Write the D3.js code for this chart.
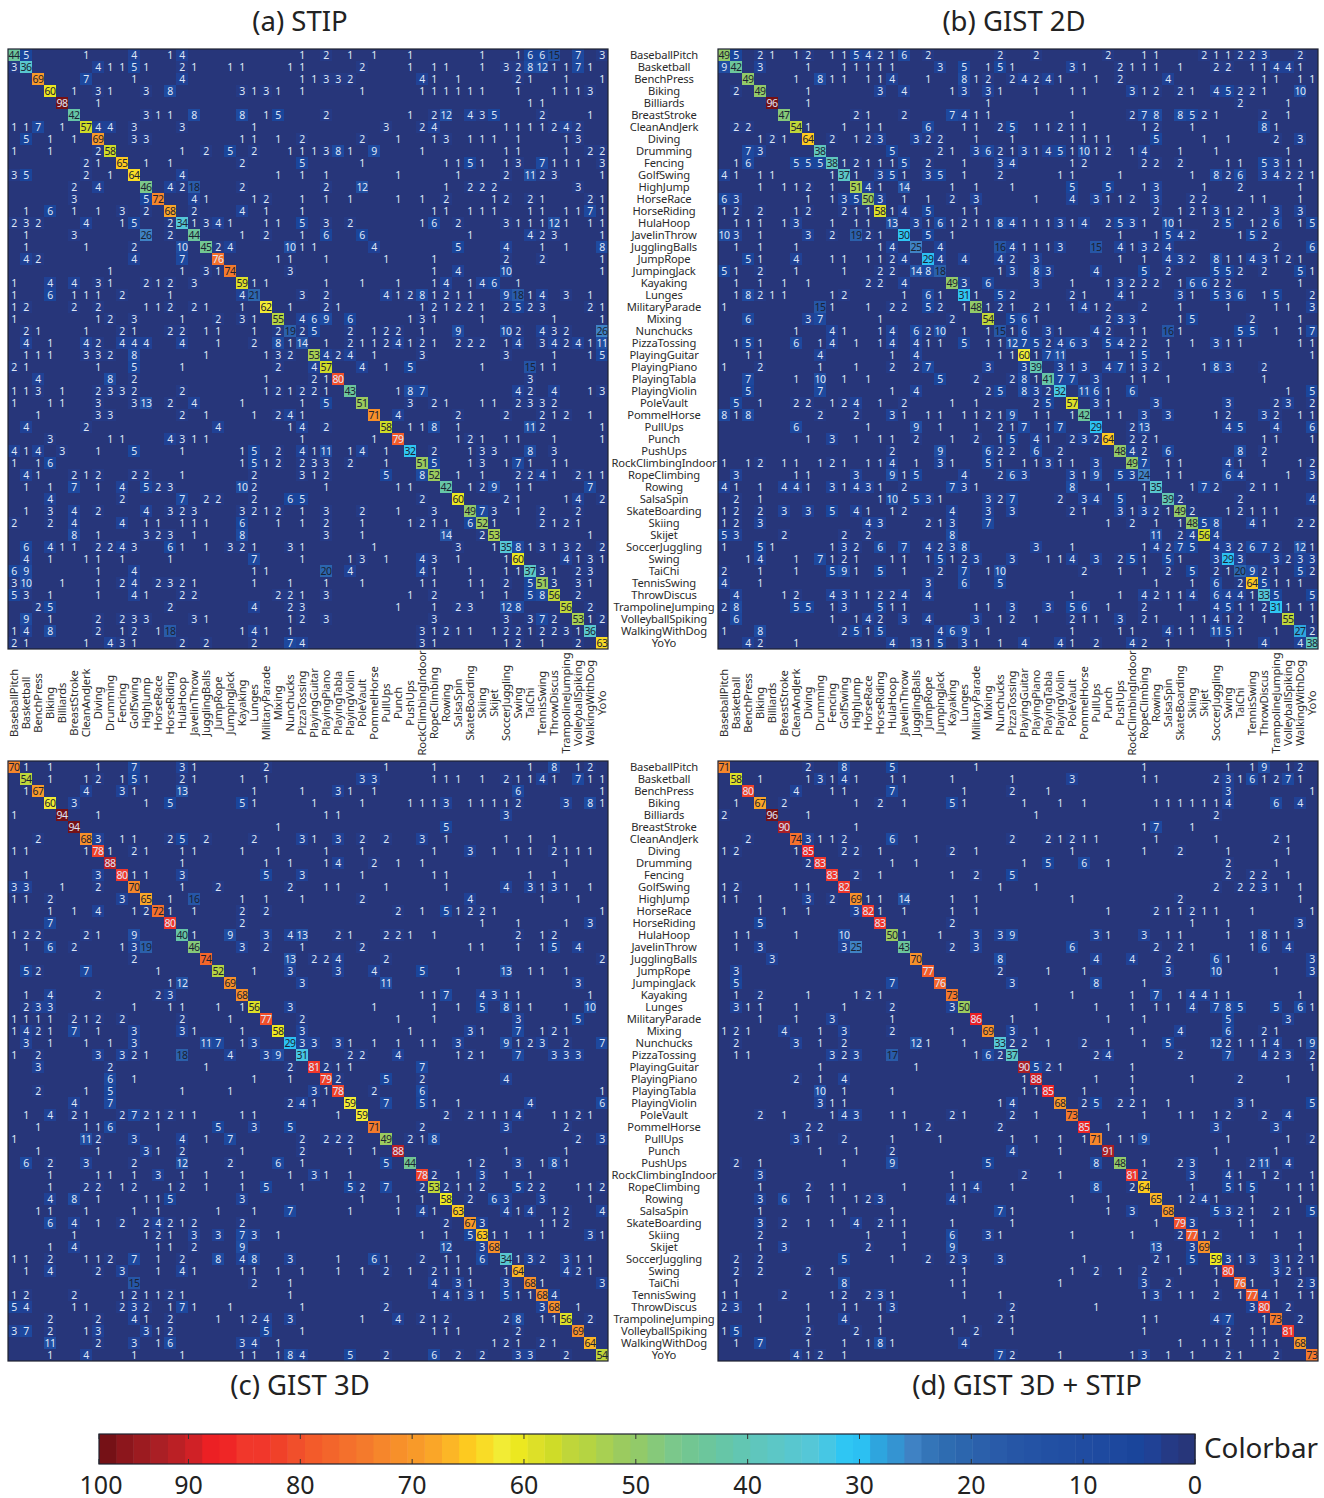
<!DOCTYPE html>
<html>
<head>
<meta charset="utf-8">
<script src="https://d3js.org/d3.v7.min.js"></script>
<style>
  html, body { margin: 0; padding: 0; background: #fff; }
  svg { display: block; }
  text { font-family: "Noto Sans", sans-serif; }
</style>
</head>
<body>
<div id="chart"></div>
<script>
var categories = ["BaseballPitch","Basketball","BenchPress","Biking","Billiards","BreastStroke","CleanAndJerk","Diving","Drumming","Fencing","GolfSwing","HighJump","HorseRace","HorseRiding","HulaHoop","JavelinThrow","JugglingBalls","JumpRope","JumpingJack","Kayaking","Lunges","MilitaryParade","Mixing","Nunchucks","PizzaTossing","PlayingGuitar","PlayingPiano","PlayingTabla","PlayingViolin","PoleVault","PommelHorse","PullUps","Punch","PushUps","RockClimbingIndoor","RopeClimbing","Rowing","SalsaSpin","SkateBoarding","Skiing","Skijet","SoccerJuggling","Swing","TaiChi","TennisSwing","ThrowDiscus","TrampolineJumping","VolleyballSpiking","WalkingWithDog","YoYo"];

// one string per row, "column:percent", empty cells left out
var stip = [
"0:44 1:5 6:1 10:4 13:1 14:4 24:1 26:2 28:1 30:1 33:1 39:1 42:1 43:6 44:6 45:15 47:7 49:3",
"0:3 1:36 7:4 8:1 9:1 10:5 11:1 14:2 15:1 18:1 19:1 23:1 24:1 29:2 33:1 35:1 36:1 39:1 41:3 42:2 43:8 44:12 45:1 46:1 47:7 48:1",
"2:69 6:7 10:1 14:4 24:1 25:1 26:3 27:3 28:2 34:4 35:1 37:1 42:2 43:1 46:1 49:1",
"3:60 5:1 7:3 8:1 11:3 13:8 19:3 20:1 21:3 22:1 24:1 29:1 34:1 35:1 36:1 37:1 38:1 39:1 42:1 45:1 46:1 47:1 48:3",
"4:98 7:1 43:1 44:1",
"5:42 11:3 12:1 13:1 15:8 19:8 21:1 22:5 26:2 33:1 35:2 36:12 38:4 39:3 40:5 44:2 48:1",
"0:1 1:1 2:7 4:1 6:57 7:4 8:4 10:3 14:3 20:1 31:3 34:2 35:4 41:1 42:1 43:1 44:1 45:2 46:4 47:2",
"1:5 3:1 5:1 7:69 10:3 11:3 19:1 20:1 22:1 24:2 29:2 32:1 35:1 36:3 38:1 39:1 40:1 42:1 46:1 47:3",
"0:1 3:1 7:2 8:58 14:1 16:2 18:5 20:2 23:1 24:1 25:1 26:3 27:8 28:1 30:9 34:1 41:1 42:1 46:1 48:2 49:2",
"6:2 7:1 9:65 11:1 13:1 19:2 24:5 29:1 36:1 37:1 38:5 39:1 41:1 42:3 44:7 45:1 46:1 47:1 49:3",
"0:3 1:5 6:2 8:1 10:64 14:4 22:1 24:1 26:1 32:1 37:1 41:2 43:11 44:2 45:3 49:1",
"5:2 7:4 11:46 13:4 14:2 15:18 19:2 26:2 29:12 36:1 38:2 39:2 40:2 47:3",
"5:3 11:5 12:72 15:4 16:1 20:1 21:2 24:1 26:1 28:1 32:1 34:1 36:2 40:1 41:2 43:2 44:1 48:2 49:1",
"1:1 3:6 5:1 7:1 9:3 11:2 13:68 15:2 19:4 21:1 24:1 35:1 36:1 38:1 39:1 40:1 43:1 44:1 46:1 47:1 48:7 49:1",
"0:2 1:3 2:2 6:4 9:1 10:5 13:2 14:34 15:1 16:3 17:4 18:1 21:1 22:1 24:5 26:3 28:2 34:1 35:6 37:2 41:3 42:1 43:1 44:1 45:12 46:1 48:1 49:1",
"1:1 5:3 11:26 13:2 15:44 19:1 21:2 24:1 26:6 29:6 38:1 43:4 44:2 45:3 49:1",
"1:1 6:1 10:2 14:10 16:45 17:2 18:4 23:10 24:1 25:1 30:4 37:5 41:4 44:1 46:1 49:8",
"1:4 2:2 10:4 14:7 17:76 22:1 23:1 26:1 31:1 35:1 41:2 44:2 49:1",
"8:1 14:1 16:3 17:1 18:74 23:3 35:1 37:4 41:10 49:1",
"0:1 3:4 5:4 7:3 8:1 11:2 12:1 13:2 15:3 19:59 20:1 21:1 26:1 29:1 32:1 35:1 36:4 38:1 39:4 40:6 42:1",
"0:1 3:6 5:1 6:1 7:1 9:2 13:1 19:4 20:21 24:3 26:2 31:4 32:1 33:2 34:8 35:1 36:2 37:1 38:1 41:9 42:18 43:1 44:4 46:3 48:1",
"0:1 1:2 5:2 7:2 11:1 12:1 13:2 15:2 16:1 19:1 21:62 23:1 26:2 27:1 34:1 35:2 36:1 37:2 38:2 39:1 41:2 42:5 43:2 44:3 48:2 49:1",
"0:1 7:1 8:2 10:3 14:1 17:2 19:3 20:1 22:55 24:4 25:6 26:9 28:6 33:1 34:3 35:1 39:1 45:1 49:1",
"1:2 2:1 6:1 9:2 10:1 13:2 14:2 16:1 17:1 20:1 22:2 23:19 24:2 25:5 28:2 30:1 31:2 32:2 34:1 37:9 41:10 42:2 44:4 45:3 46:2 49:26",
"1:4 3:1 6:4 7:2 9:4 10:4 11:4 14:4 17:1 20:2 22:8 23:1 24:14 26:1 28:2 29:1 30:1 31:2 32:4 33:1 34:2 35:1 37:2 38:2 39:2 41:1 42:4 44:3 45:4 46:2 47:4 48:1 49:11",
"1:1 2:1 3:1 6:3 7:3 8:2 10:8 16:1 21:1 22:3 23:2 25:53 26:4 27:2 28:4 30:1 34:3 41:3 45:1 48:1 49:5",
"0:2 1:1 7:1 10:5 14:1 22:2 25:4 26:57 29:4 31:1 33:5 39:1 43:15 44:1 45:1",
"2:4 8:8 10:2 21:1 25:2 26:1 27:80 43:3",
"0:1 1:1 2:3 4:1 7:2 8:3 9:3 10:2 14:2 21:1 22:2 23:1 24:2 25:2 26:1 28:43 32:1 33:8 34:7 42:4 43:2 45:4 48:1 49:3",
"0:1 3:1 4:1 7:3 10:3 11:13 13:2 15:4 19:1 24:1 26:5 29:51 33:3 35:2 36:1 39:1 40:1 42:2 43:3 44:3 45:2",
"2:1 7:3 8:3 14:2 16:1 20:1 22:2 23:4 24:1 30:71 32:4 37:2 41:2 44:2 45:1 46:2 48:1",
"1:4 6:2 17:4 23:1 24:4 26:2 31:58 33:1 34:1 35:8 37:1 43:11 44:2 49:1",
"3:3 8:1 9:1 13:4 14:3 15:1 16:1 24:1 30:1 32:79 37:1 38:2 39:1 41:1 42:1 45:1 49:1",
"0:4 1:1 2:4 4:3 7:1 10:5 14:1 19:1 20:5 22:2 24:4 25:1 26:11 28:1 29:4 31:1 33:32 35:2 38:1 39:3 40:3 43:8 45:3",
"0:1 2:1 3:6 19:1 20:5 21:1 22:2 24:2 25:3 26:3 28:2 31:1 34:51 35:5 38:1 39:3 41:1 42:7 43:1 45:1 46:1",
"1:4 2:1 5:2 6:1 7:2 10:2 11:2 14:1 20:2 24:3 25:1 26:2 31:5 34:8 35:52 37:1 39:1 42:2 43:2 44:4 45:1 47:2 48:1 49:1",
"1:1 3:1 5:7 7:1 9:4 11:5 12:2 13:3 19:10 20:2 26:1 32:1 33:1 36:42 38:1 39:2 40:9 42:1 43:1 48:7",
"3:4 9:2 14:7 16:2 17:2 20:2 23:6 24:5 34:2 37:60 41:2 42:1 46:1 47:4 49:2",
"1:1 3:3 5:4 7:2 11:4 13:3 14:2 15:3 19:3 20:2 21:1 22:2 24:1 26:3 29:2 32:1 35:3 38:49 39:7 40:3 42:1 44:2 47:2",
"0:2 3:2 5:4 9:4 11:1 12:1 14:1 15:1 16:1 19:6 22:1 24:1 26:2 29:1 33:1 34:2 35:1 36:1 38:6 39:52 40:1 44:2 45:1 46:2 47:1",
"5:8 7:1 11:3 12:2 13:3 15:1 19:8 26:3 29:1 36:14 39:2 40:53 48:1",
"1:6 3:4 4:1 5:1 7:2 8:2 9:4 10:3 13:6 14:1 16:1 18:3 19:2 20:1 23:3 24:1 30:1 37:3 40:1 41:35 42:8 43:1 44:3 45:1 46:3 47:2 49:2",
"1:4 3:1 6:1 7:1 9:1 13:1 20:7 24:1 28:1 29:3 31:1 34:4 35:3 37:1 41:1 42:60 46:4 47:1 48:3 49:1",
"0:6 1:9 7:1 10:4 20:1 21:1 26:20 28:4 34:4 35:1 38:1 41:1 42:1 43:37 44:3 45:1 47:2 48:3",
"0:3 1:10 4:1 7:1 9:2 10:4 12:2 13:3 14:2 15:1 20:1 23:1 26:1 29:1 34:1 35:1 38:1 39:1 41:2 43:5 44:51 45:3 47:3 48:1",
"0:5 1:3 3:1 7:1 10:4 11:1 14:2 15:2 22:2 23:2 24:1 26:3 33:1 35:2 39:1 41:1 43:5 44:8 45:56 47:2",
"2:2 3:5 13:2 20:4 23:2 24:3 32:1 35:1 37:2 38:3 41:12 42:8 46:56 48:2",
"1:9 3:1 7:2 9:2 10:3 11:3 15:3 16:1 23:1 24:2 26:3 35:3 41:3 43:3 44:7 45:2 47:53 48:1 49:2",
"0:1 1:4 3:8 7:2 9:1 10:2 12:1 13:18 19:1 20:4 21:1 23:1 34:3 35:1 36:2 37:1 38:1 40:1 41:2 42:2 43:1 44:2 45:2 46:3 47:1 48:36",
"0:2 1:1 6:1 8:4 9:3 10:1 14:2 16:2 20:2 23:7 24:4 34:3 35:1 41:1 42:2 44:1 47:2 49:63"
];

var gist2d = [
"0:49 1:5 3:2 4:1 6:1 7:2 9:1 10:1 11:5 12:4 13:2 14:1 15:6 17:2 23:2 26:2 32:2 35:1 36:1 40:2 41:1 42:1 43:2 44:2 45:3 48:2",
"0:9 1:42 3:3 7:1 10:1 11:1 12:1 13:1 14:1 18:3 20:5 22:1 23:5 24:1 29:3 30:1 33:2 34:1 35:1 36:1 38:1 41:2 42:2 44:1 45:1 46:4 47:4 48:1",
"2:49 6:1 8:8 9:1 10:1 12:1 13:1 14:4 17:1 20:8 21:1 22:2 24:2 25:4 26:2 27:4 28:1 31:1 33:2 37:4 45:1 46:1 48:1 49:1",
"1:2 3:49 7:1 13:3 15:4 19:1 20:3 22:3 23:1 26:1 29:1 30:1 34:3 35:1 36:2 38:2 39:1 41:4 42:5 43:2 44:2 45:1 48:10",
"4:96 7:1 22:1 43:2 47:1",
"5:47 11:2 12:1 15:2 19:7 20:4 21:1 22:1 29:1 34:2 35:7 36:8 38:8 39:5 40:2 41:1 45:2 47:1",
"1:2 2:2 6:54 7:1 10:1 12:1 13:1 17:6 20:1 21:1 23:2 24:5 26:1 27:1 28:2 29:1 30:1 35:1 36:2 39:1 45:8 46:1",
"3:1 4:2 5:1 7:64 9:2 11:1 12:2 13:3 16:3 17:2 18:2 21:1 24:1 29:1 30:1 31:1 32:1 36:5 40:1 42:1 46:2 48:3",
"2:7 3:3 8:38 14:5 18:2 19:1 21:3 22:6 23:2 24:1 25:3 26:1 27:4 28:5 29:1 30:10 31:1 32:2 34:1 35:4 38:1 41:1 47:1",
"1:1 2:6 6:5 7:5 8:5 9:38 10:1 11:2 12:1 13:1 14:1 15:5 17:2 20:1 23:3 24:4 29:1 30:2 35:2 36:2 38:2 42:1 43:1 45:5 46:3 47:1 48:1",
"0:4 1:1 3:1 4:1 9:1 10:37 11:1 13:3 14:5 15:1 17:3 18:5 20:1 23:2 28:1 29:1 33:1 39:1 41:8 42:2 43:6 45:3 46:4 47:2 48:2 49:1",
"3:1 5:1 6:1 7:2 9:1 11:51 12:4 13:1 15:14 19:1 21:1 24:1 29:5 32:5 35:1 36:3 40:1 43:2 48:1",
"0:6 1:3 7:1 9:1 10:3 11:5 12:50 13:3 15:1 17:1 19:2 21:3 26:1 29:4 31:3 32:1 33:1 34:2 36:3 39:2 40:2 44:1 45:1 48:1",
"0:1 1:2 3:2 6:1 7:2 10:2 11:1 12:1 13:58 14:1 15:4 17:5 20:1 21:1 36:2 38:1 39:2 40:1 41:3 42:1 43:2 46:3 48:3",
"1:1 2:1 3:1 5:1 6:3 9:1 11:1 12:1 14:13 16:3 17:1 18:6 19:1 20:2 21:1 22:1 23:8 24:4 25:1 26:1 27:1 28:3 29:1 30:4 32:2 33:5 34:3 35:1 37:10 38:1 41:2 42:5 44:1 45:2 46:6 48:1 49:5",
"0:10 1:3 3:1 7:3 9:2 11:19 12:2 13:1 15:30 17:5 19:1 33:1 36:1 37:5 38:4 39:2 43:1 44:5 45:2",
"1:1 3:1 6:1 13:1 14:4 16:25 18:4 23:16 24:4 25:1 26:1 27:1 28:3 31:15 33:4 34:1 35:3 36:2 37:4 46:2 49:6",
"2:5 3:1 6:4 9:1 10:1 12:1 13:1 14:2 15:4 17:29 18:4 20:4 23:4 24:2 26:3 33:1 35:1 37:4 38:3 39:2 41:8 42:1 43:1 44:4 45:3 46:1 47:2 48:1",
"0:5 1:1 3:2 6:1 10:1 13:2 14:2 16:14 17:8 18:18 23:1 24:3 26:8 27:3 31:4 35:5 37:2 41:5 42:5 43:2 45:2 48:5 49:1",
"1:1 3:1 5:1 7:1 12:2 13:2 15:4 19:49 20:3 22:6 26:3 29:1 32:1 33:3 34:2 35:2 36:2 38:1 39:6 40:6 41:2 42:2 48:1",
"1:1 2:8 3:2 4:1 5:1 9:1 10:2 15:1 17:6 18:1 20:31 21:1 23:5 24:2 29:2 30:1 33:4 34:1 38:3 39:1 41:5 42:3 43:6 45:1 46:5 49:2",
"0:1 8:15 9:1 12:1 14:2 15:2 17:5 18:2 20:1 21:48 22:1 23:2 24:1 26:2 27:1 29:1 30:4 31:1 32:2 35:2 38:1 42:1 46:1 47:1 49:3",
"2:6 7:3 8:7 13:1 19:2 22:54 24:5 25:6 26:1 32:2 33:3 34:3 38:1 39:5 44:2 48:1",
"6:1 9:4 10:1 13:1 14:4 16:6 17:2 18:10 20:1 22:1 23:15 24:1 25:6 27:3 28:1 31:4 32:2 34:1 35:1 37:16 38:1 43:5 44:5 46:1 48:1 49:7",
"1:1 2:5 3:1 6:6 8:1 9:4 11:1 13:1 14:4 16:4 17:1 18:1 20:5 22:1 23:1 24:12 25:7 26:5 27:2 28:4 29:6 30:3 32:5 33:4 34:2 35:2 37:1 39:1 41:3 42:1 43:1 48:1 49:1",
"2:1 3:1 8:4 14:1 16:4 23:1 24:1 25:60 26:1 27:7 28:11 32:1 34:1 35:5 37:1 49:1",
"0:1 3:2 8:1 11:1 14:2 16:2 17:7 22:3 25:3 26:39 28:3 29:1 30:3 32:4 33:7 34:1 35:3 36:2 40:1 41:8 42:3 45:2",
"2:7 6:1 8:10 10:1 12:1 18:5 21:2 24:2 25:8 26:1 27:41 28:7 29:7 31:3 34:1 35:1 37:1 45:1",
"2:5 8:7 14:1 16:4 22:2 23:5 25:8 26:3 27:2 28:32 30:11 31:6 32:1 34:6 47:1 49:5",
"1:5 3:1 6:2 7:2 9:1 10:2 11:4 13:1 15:2 19:1 21:1 26:2 27:5 29:57 31:3 32:1 36:3 42:3 46:2 47:3 49:2",
"0:8 1:1 2:8 8:2 11:2 14:3 15:1 17:1 18:1 20:1 21:1 22:2 23:1 24:9 26:1 27:1 29:1 30:42 32:1 33:1 35:3 37:3 41:1 42:2 45:3 46:2 48:1 49:1",
"6:6 12:1 16:9 18:1 21:1 23:2 24:1 25:7 27:1 28:7 31:29 34:2 35:13 42:4 43:5 46:4 49:6",
"7:1 9:3 11:1 13:1 14:1 16:2 19:1 21:2 23:1 24:5 26:4 27:1 29:2 30:3 31:2 32:64 34:2 35:2 36:1 45:1 46:1 49:1",
"14:2 18:9 22:6 23:2 24:2 26:6 28:2 33:48 34:4 35:2 37:6 43:8 45:2",
"0:1 2:1 3:2 5:1 6:1 8:1 9:2 10:1 12:1 13:1 14:4 16:1 18:3 19:1 22:5 23:1 25:1 26:1 27:3 28:1 29:1 31:3 34:49 35:7 37:1 38:1 42:4 43:1 45:1 48:1 49:2",
"1:3 6:1 7:1 11:3 14:9 15:1 16:5 20:4 23:2 24:6 25:3 29:3 30:1 31:9 33:5 34:3 35:24 37:1 38:1 42:6 43:4 47:1 49:3",
"0:4 1:1 3:1 5:4 6:4 7:1 9:3 10:1 11:4 12:3 13:1 15:2 19:7 20:3 21:1 29:8 32:1 35:1 36:35 39:1 40:7 41:2 44:2 45:1 46:1",
"1:2 3:1 13:1 14:10 16:5 17:3 18:1 22:3 23:2 24:7 28:2 30:3 31:4 33:5 35:1 37:39 38:2 43:2 49:4",
"0:1 1:2 3:2 5:3 7:3 9:5 11:4 12:1 14:1 15:2 19:4 22:3 24:3 29:2 30:1 33:3 34:1 35:3 36:2 37:1 38:49 39:2 42:1 43:2 44:1 45:1 46:1",
"0:1 1:2 3:3 12:4 13:3 17:2 18:1 19:3 22:7 32:1 34:2 36:1 38:1 39:48 40:5 41:8 44:4 45:1 48:2 49:2",
"0:5 1:3 5:2 10:2 12:2 19:8 36:11 38:2 39:4 40:56 41:4",
"0:1 3:5 4:1 9:1 10:3 11:2 13:6 15:7 17:4 18:2 19:3 20:8 26:3 29:1 35:1 36:4 37:2 38:7 39:5 41:4 42:3 43:2 44:6 45:7 46:2 48:12 49:1",
"2:1 3:4 6:1 8:7 9:1 10:2 11:1 14:1 15:1 17:1 18:5 19:1 20:2 21:3 24:3 27:1 28:1 29:4 31:3 33:2 34:5 35:1 37:5 38:1 41:3 42:29 43:3 46:3 47:2 48:3 49:3",
"0:2 3:1 6:1 9:5 10:9 11:1 13:5 15:1 18:2 20:7 22:1 23:10 30:2 33:1 35:1 37:2 39:5 41:2 42:1 43:20 44:9 45:2 46:1 48:5 49:2",
"0:4 3:1 17:3 20:6 23:5 36:1 39:1 41:6 43:2 44:64 45:5 46:1 47:1 48:1",
"1:4 5:1 6:2 9:4 10:3 11:1 12:1 13:2 14:2 15:4 17:4 29:1 33:1 35:4 36:2 37:1 38:1 39:4 41:6 42:4 43:4 44:1 45:33 46:5 49:5",
"0:2 1:8 6:5 7:5 9:1 10:3 13:5 14:1 15:1 21:1 22:1 24:3 27:3 29:5 30:6 32:1 35:2 38:1 41:4 42:5 43:1 44:1 45:2 46:31 47:1 48:1 49:1",
"1:6 9:1 11:1 12:4 13:2 15:3 17:4 21:3 23:1 24:2 26:1 29:2 30:1 31:1 33:3 35:2 36:1 39:1 40:1 41:4 42:1 43:2 45:1 47:55 49:1",
"0:1 3:8 10:2 11:5 12:1 13:5 18:4 19:6 20:9 22:1 29:1 33:1 34:1 37:4 38:1 39:1 41:11 42:5 43:1 46:1 48:27 49:2",
"2:4 3:2 6:1 14:4 16:13 17:1 18:5 20:3 21:1 23:1 25:4 28:4 29:1 31:2 34:4 35:2 37:1 42:1 45:4 48:4 49:38"
];

var gist3d = [
"0:70 1:1 3:1 7:1 10:7 14:3 15:1 21:2 31:1 35:1 43:1 45:8 47:1 48:2",
"1:54 3:1 6:1 7:2 9:1 10:5 11:1 14:2 15:1 19:1 21:1 29:3 30:3 35:1 36:1 37:1 39:1 41:2 42:1 43:1 44:4 45:1 47:7 48:1 49:1",
"1:1 2:67 6:4 9:3 10:1 14:13 20:1 24:1 27:3 28:1 30:1 42:6 49:1",
"3:60 5:3 11:1 13:5 19:5 20:1 25:1 29:1 33:1 34:1 35:1 36:3 38:1 39:1 40:1 41:1 42:2 46:3 48:8 49:1",
"0:1 4:94 7:1 26:1 27:1 41:3",
"5:94 22:1 36:5",
"2:2 6:68 7:3 9:1 10:1 13:2 14:5 16:2 20:2 24:3 25:1 27:3 29:2 31:2 34:3 36:1 41:1 43:1 45:1",
"0:1 1:1 6:1 7:78 8:1 10:2 11:1 14:1 15:1 19:1 22:1 26:1 29:1 35:1 38:3 40:1 42:1 43:1 45:2 46:1 47:1 48:1",
"8:88 14:1 21:1 23:1 26:1 27:4 30:2 32:1 34:1 46:1",
"1:1 7:3 9:80 10:1 11:1 14:3 21:5 24:3 29:1 35:1 36:1 43:1 45:1",
"0:3 1:3 4:1 7:2 10:70 14:1 17:2 23:2 26:1 27:1 31:1 36:1 41:4 43:3 44:1 45:3 46:1 48:1",
"0:1 1:1 3:2 9:3 11:65 13:1 15:16 19:1 21:1 24:1 29:2 38:4 44:1 47:1",
"3:1 5:1 7:4 10:1 11:2 12:72 13:1 15:1 19:2 21:2 32:2 34:1 36:5 37:1 38:2 39:2 40:1 49:1",
"3:7 13:80 19:2 39:1 42:1 46:1 48:3",
"0:1 1:2 2:2 6:2 7:1 10:9 14:40 15:1 18:9 21:3 23:4 24:13 27:2 28:1 31:2 32:2 33:1 35:1 42:2 44:1 45:2",
"1:1 3:6 5:2 9:1 10:3 11:19 15:46 19:3 21:2 24:1 29:2 38:1 39:1 42:1 44:1 45:5 47:4",
"10:2 16:74 23:13 25:2 26:2 27:4 31:2 49:2",
"1:5 2:2 6:7 12:1 17:52 20:1 23:3 27:3 30:4 34:5 37:1 41:13 43:1 44:1 46:1",
"13:1 14:12 18:69 24:3 31:11 47:3",
"1:1 3:4 7:2 12:2 13:3 19:68 34:1 35:1 36:7 39:4 40:3 41:1 42:1 48:1",
"1:2 2:3 3:3 10:1 13:1 14:1 17:1 19:1 20:56 23:3 30:1 35:1 37:1 39:5 41:8 42:1 43:1 46:1 48:10",
"0:1 1:1 2:1 3:1 5:2 6:1 7:2 9:2 14:2 18:1 21:77 24:2 32:1 35:1 42:3 47:5",
"0:1 1:4 2:2 3:1 5:7 7:1 10:3 14:3 15:1 19:1 22:58 24:3 33:1 38:3 39:1 42:7 44:1 45:2 46:1",
"1:3 3:1 6:1 8:1 10:3 16:11 17:7 19:1 20:3 23:29 24:3 25:3 27:3 28:1 30:1 32:1 34:1 35:1 37:3 41:9 42:1 43:2 44:3 46:2 49:7",
"0:1 2:2 7:3 9:3 10:2 11:1 14:18 18:4 21:3 22:9 24:31 28:2 29:2 32:4 37:1 38:2 39:1 42:7 45:3 46:3 47:3",
"2:3 8:2 16:1 23:2 25:81 26:2 27:1 28:1 34:7",
"8:6 10:1 20:1 23:1 26:79 27:2 31:5 34:2 41:4",
"2:2 6:1 8:5 14:1 18:1 25:3 26:1 27:78 30:2 34:6 49:1",
"5:4 8:7 23:2 24:4 25:1 28:59 31:7 34:5 35:1 37:1 43:4 49:6",
"1:1 3:4 5:2 6:1 9:2 10:7 11:2 12:1 13:2 14:1 15:1 19:1 20:1 27:1 29:59 36:2 38:2 39:1 40:1 41:1 42:4 45:1 46:1 47:2 48:1",
"2:1 6:1 7:1 8:6 12:1 17:5 20:3 23:5 30:71 34:2 41:3 46:2",
"0:1 6:11 7:2 10:3 14:4 16:1 18:7 24:2 26:2 27:2 28:2 31:49 33:2 34:1 35:8 47:2 49:3",
"2:1 7:1 11:3 12:1 14:2 19:1 24:2 28:1 30:1 32:88 41:1 46:1",
"1:6 3:2 6:3 10:2 14:12 18:2 22:6 24:1 31:5 33:44 38:1 39:2 42:3 44:1 45:8 46:1",
"3:1 7:1 8:1 10:1 12:3 14:1 16:1 19:1 23:1 25:3 26:1 28:1 34:78 35:2 37:1 39:3 41:1 43:1",
"3:1 6:2 7:2 9:1 10:2 13:1 14:2 16:1 19:1 21:5 24:1 28:5 29:2 31:7 34:2 35:53 36:2 37:1 38:1 39:2 42:5 43:2 44:2 47:1 48:1 49:2",
"3:4 5:8 7:1 11:1 12:1 13:5 19:3 29:1 32:1 34:1 36:58 38:2 40:6 41:3 44:3 48:1",
"2:1 3:1 6:1 10:1 12:1 17:1 20:1 23:7 28:1 32:1 34:4 35:1 37:63 41:4 42:1 43:4 45:1 46:2 49:4",
"3:6 5:4 7:1 9:2 11:2 12:4 13:2 14:1 15:2 19:2 36:2 38:67 39:3 44:1 45:1 46:2",
"5:1 11:1 12:2 13:1 15:3 17:3 19:7 20:3 22:1 34:1 36:1 38:5 39:63 40:1 41:1 43:1 44:1 48:3 49:1",
"3:1 5:4 12:1 13:1 15:2 19:9 36:12 39:3 40:68",
"0:1 1:1 3:2 6:1 7:1 8:2 10:7 12:1 14:2 17:8 19:4 20:8 23:3 27:1 30:6 31:1 34:2 36:1 37:1 39:6 41:34 42:1 43:3 44:2 46:3 47:1 48:1",
"1:1 3:4 7:2 9:3 12:1 14:4 15:1 19:1 20:1 22:1 24:1 27:1 29:1 31:2 33:1 35:2 36:1 37:1 38:1 41:1 42:64 46:4 47:2 48:1",
"10:15 20:2 23:1 35:4 37:3 38:1 41:3 43:68 44:1 49:3",
"0:1 1:2 5:2 9:1 10:2 11:1 12:1 13:2 14:1 23:1 35:1 36:4 37:1 38:3 39:1 41:5 42:1 43:1 44:68 45:4",
"0:5 1:4 5:1 6:1 9:2 10:3 11:2 13:1 14:7 15:1 18:1 24:1 31:2 44:3 45:68 47:1",
"3:2 7:2 10:4 11:1 13:2 17:1 19:1 20:2 21:4 23:3 29:1 32:4 34:2 35:1 36:2 41:2 42:8 44:1 45:1 46:56 48:2",
"0:3 1:7 3:2 6:1 7:3 11:3 12:1 13:2 21:5 24:1 35:1 36:1 37:1 42:2 47:69",
"3:11 7:2 10:3 12:1 13:6 19:3 20:4 22:1 40:1 41:2 42:1 44:2 45:1 48:64",
"3:1 6:4 10:1 14:1 19:1 20:1 22:1 23:8 24:4 28:5 31:2 35:6 37:2 39:2 42:3 43:3 46:2 49:54"
];

var gist3dStip = [
"0:71 7:2 10:8 14:5 21:1 35:1 42:1 44:1 45:9 47:1 48:2",
"1:58 3:1 7:1 8:3 9:1 10:4 11:1 14:1 15:1 19:1 24:1 29:3 35:1 36:1 41:2 42:3 43:1 44:6 45:1 46:2 47:7 48:1",
"2:80 6:4 9:1 10:1 14:7 20:1 24:2 27:1 42:3 49:1",
"1:1 3:67 5:2 11:1 13:2 15:1 19:5 20:1 25:1 28:1 30:1 36:1 37:1 38:1 39:1 40:1 41:1 42:4 46:6 48:4",
"0:2 4:96 7:1 26:1 41:2",
"5:90 11:1 35:1 36:7 39:1",
"2:2 6:74 7:3 8:1 9:1 10:2 14:6 16:1 24:2 27:2 28:1 29:2 30:1 31:1 36:1 41:1 46:2 47:1",
"0:1 1:2 6:1 7:85 10:2 11:2 13:1 19:2 21:1 29:1 35:1 38:2 42:1 47:1",
"7:2 8:83 14:1 16:1 25:1 27:5 30:6 32:1 42:2 46:1",
"9:83 11:2 13:1 19:1 21:2 24:5 42:2 44:2 45:2 47:1",
"0:1 1:2 6:1 7:1 10:82 23:1 26:1 41:2 43:2 44:2 45:3 46:1 48:1",
"0:1 1:1 3:1 7:3 9:2 11:69 12:1 13:1 15:14 19:1 21:1 29:1 38:2 48:1",
"3:1 5:1 7:1 11:3 12:82 13:1 15:1 19:1 21:1 32:1 36:2 37:1 38:1 39:2 40:1 41:1 44:1 49:1",
"3:5 13:83 19:2 39:1 42:1 48:3",
"1:1 2:1 6:1 10:10 14:50 15:1 18:1 21:3 23:3 24:9 31:3 32:1 35:3 37:1 38:1 42:1 44:1 45:8 46:1 47:1",
"1:1 3:3 10:3 11:25 15:43 19:2 21:3 29:6 36:2 38:2 39:1 44:1 45:6 47:4",
"4:3 16:70 23:8 31:4 34:4 37:2 41:6 42:1 49:3",
"1:3 17:77 23:2 27:1 30:1 37:3 41:10 46:1 49:3",
"1:5 14:7 18:76 24:3 31:8 35:1",
"1:1 3:2 7:1 11:1 12:2 13:1 19:73 29:1 34:1 36:7 38:1 39:4 40:4 41:1 42:1 48:1",
"1:3 2:1 3:1 6:1 10:1 14:2 19:3 20:50 26:1 31:1 34:1 36:1 37:1 39:4 41:7 42:8 43:5 46:5 48:6 49:1",
"3:1 6:1 9:3 14:1 21:86 24:1 32:1 35:1 42:5 47:3",
"0:1 1:2 2:1 5:4 8:1 10:3 14:2 19:1 22:69 24:3 26:1 34:1 38:4 42:6 45:2 46:1",
"1:2 6:3 8:1 10:2 16:12 17:1 20:1 23:33 24:2 25:2 27:1 30:2 32:1 35:1 37:5 41:12 42:2 43:1 44:1 45:1 46:4 48:1 49:9",
"1:1 2:1 9:3 10:2 11:3 14:17 21:1 22:6 23:2 24:37 31:2 32:4 38:2 42:7 45:4 46:2 47:3 49:2",
"8:1 16:1 25:90 26:5 27:2 28:1 34:1 49:1",
"6:2 8:1 10:4 25:1 26:88 31:1 34:1 39:1 43:2 47:1",
"8:10 10:1 14:1 25:1 26:1 27:85 30:1 34:1",
"8:3 9:1 10:1 23:1 24:4 28:68 30:2 31:5 33:2 34:2 35:1 37:1 43:3 44:1 49:5",
"3:2 5:1 9:1 10:4 11:3 14:1 15:1 19:2 20:1 24:2 26:1 29:73 35:1 38:1 39:1 41:1 42:2 45:2 47:4",
"7:2 8:2 16:1 17:2 23:2 30:85 32:1 41:3 46:3",
"6:3 7:1 10:2 14:1 18:1 24:1 26:1 28:1 30:1 31:71 33:1 34:1 35:9 42:1 47:1 49:2",
"8:1 11:1 14:2 24:4 28:1 32:91 41:1 46:1",
"1:2 3:1 10:1 14:9 22:5 31:8 33:48 35:1 38:2 39:3 42:1 44:2 45:11 47:4",
"3:3 19:1 25:2 28:1 34:81 35:2 39:3 42:4 43:1 45:1 46:2 49:1",
"3:1 7:2 9:1 10:1 15:1 19:1 20:1 21:4 24:1 31:8 34:2 35:64 39:1 42:5 43:1 44:5 47:1 48:1 49:1",
"3:3 5:6 7:1 9:1 11:1 12:2 13:3 19:4 20:1 29:1 32:1 36:65 38:1 39:2 40:4 41:1 44:1 48:1",
"3:1 10:1 14:1 23:7 24:1 32:1 34:3 37:68 41:5 42:3 43:2 44:1 46:2 47:1 49:5",
"3:3 5:2 7:1 9:1 11:4 13:2 14:1 15:1 19:1 24:1 36:1 38:79 39:3 43:1 44:1",
"3:2 12:1 15:1 19:6 22:3 23:1 29:1 34:1 38:2 39:77 40:1 41:2 44:1 46:1 48:1",
"3:1 5:3 12:2 15:1 19:9 36:13 39:3 40:69 48:1",
"1:2 3:2 10:5 14:1 17:2 19:2 20:3 23:3 30:1 36:2 37:1 39:5 41:59 42:3 43:1 44:3 46:3 47:1 48:2 49:1",
"1:2 3:2 7:2 9:1 20:1 29:1 31:2 33:1 35:2 38:1 41:1 42:80 46:3 47:2 48:1",
"1:1 10:8 19:1 20:1 28:1 35:3 37:2 41:1 43:76 44:1 46:1 48:2 49:3",
"0:1 1:1 5:2 9:1 10:2 12:2 13:3 14:1 20:1 23:1 35:1 36:3 38:1 39:1 41:2 43:1 44:77 45:4 46:1 48:1 49:1",
"0:2 1:3 3:1 7:1 10:1 11:1 13:1 14:3 24:2 31:1 44:3 45:80 47:2",
"3:1 7:1 10:4 13:1 20:1 23:2 24:1 35:1 36:1 41:4 42:7 45:1 46:73 48:2",
"0:1 1:5 7:2 11:2 13:1 19:1 21:2 24:1 35:1 42:2 44:1 45:1 47:81",
"1:1 3:7 7:1 10:1 12:1 13:8 14:1 20:4 38:1 40:1 41:1 42:1 44:1 45:1 46:1 48:68",
"6:4 7:1 8:2 10:1 23:7 24:2 28:1 34:1 35:3 37:1 39:1 42:2 43:1 46:2 49:73"
];

// colorbar steps, low to high
var colormap = ["#27367a","#253a85","#204195","#1a459b","#1d489e","#1e4aa0","#204ca1","#214ea2","#2250a3","#2453a5","#2656a6","#295ba9","#2b60ab","#2c66ae","#2e6cb1","#3475b8","#3f82c4","#3494d2","#2ea5de","#2cc0f2","#2fc6f3","#46c7e4","#55c7d7","#58c7cf","#5cc7c6","#5fc6bd","#62c6b2","#66c6a7","#6cc69c","#72c692","#7bc88b","#86c97a","#92ca69","#9bcb5f","#a8d052","#b5d442","#bfd63a","#cfdc28","#dde028","#ece820","#f2ec34","#f9dc26","#fdca20","#fcb626","#faa628","#f89a29","#f7902a","#f6862b","#f47a2c","#f4702c","#f3652b","#f35b2a","#f14f2b","#f04129","#f1372b","#f1372b","#ef2626","#ec2024","#d02126","#bb2025","#aa1f25","#9c1b20","#8c161c","#751116"];
var colorbarTicks = [100,90,80,70,60,50,40,30,20,10,0];
var colorbarMax = 98;

var panels = [
  {name: "(a) STIP", rows: stip, left: 8, top: 49, titleX: 300, titleY: 31},
  {name: "(b) GIST 2D", rows: gist2d, left: 718, top: 49, titleX: 1014, titleY: 31},
  {name: "(c) GIST 3D", rows: gist3d, left: 8, top: 761, titleX: 300, titleY: 1395},
  {name: "(d) GIST 3D + STIP", rows: gist3dStip, left: 718, top: 761, titleX: 1027, titleY: 1395}
];

var width = 1324, height = 1498, panelSize = 600;
var border = "#1f2230", textColor = "#2b2b2b";

function expandRows(rows) {
  var cells = [];
  rows.forEach(function(row, r) {
    var values = new Array(categories.length).fill(0);
    row.split(" ").forEach(function(pair) {
      var p = pair.split(":");
      values[+p[0]] = +p[1];
    });
    values.forEach(function(v, c) { cells.push({row: r, col: c, value: v}); });
  });
  return cells;
}

var svg = d3.select("#chart").append("svg")
    .attr("width", width)
    .attr("height", height);

panels.forEach(function(panel) {
  var cells = expandRows(panel.rows);
  // every matrix is scaled to its own largest value
  var color = d3.scaleQuantize()
      .domain([0, d3.max(cells, function(d) { return d.value; })])
      .range(colormap);
  var x = d3.scaleBand().domain(d3.range(categories.length)).range([0, panelSize]);
  var y = d3.scaleBand().domain(d3.range(categories.length)).range([0, panelSize]);

  var g = svg.append("g")
      .attr("transform", "translate(" + panel.left + "," + panel.top + ")");

  g.selectAll("rect.cell")
      .data(cells)
    .enter().append("rect")
      .attr("class", "cell")
      .attr("x", function(d) { return x(d.col); })
      .attr("y", function(d) { return y(d.row); })
      .attr("width", x.bandwidth())
      .attr("height", y.bandwidth())
      .attr("fill", function(d) { return color(d.value); });

  g.selectAll("text.num")
      .data(cells.filter(function(d) { return d.value > 0; }))
    .enter().append("text")
      .attr("class", "num")
      .attr("x", function(d) { return x(d.col) + x.bandwidth() / 2; })
      .attr("y", function(d) { return y(d.row) + y.bandwidth() / 2; })
      .attr("dy", ".36em")
      .attr("text-anchor", "middle")
      .attr("font-size", 10.5)
      .attr("letter-spacing", -0.4)
      .attr("fill", function(d) { return (d.value < 15 || d.value >= 75) ? "#dfe6f6" : "#1b2233"; })
      .text(function(d) { return d.value; });

  g.append("rect")
      .attr("width", panelSize)
      .attr("height", panelSize)
      .attr("fill", "none")
      .attr("stroke", border)
      .attr("stroke-width", 1.2);

  svg.append("text")
      .attr("x", panel.titleX)
      .attr("y", panel.titleY)
      .attr("text-anchor", "middle")
      .attr("font-size", 27.5)
      .attr("fill", "#222")
      .text(panel.name);

  // class names run down the gutter beside the left matrices
  if (panel.left === 8) {
    svg.append("g").selectAll("text")
        .data(categories)
      .enter().append("text")
        .attr("x", 664)
        .attr("y", function(d, i) { return panel.top + y(i) + y.bandwidth() / 2; })
        .attr("dy", ".36em")
        .attr("text-anchor", "middle")
        .attr("font-size", 11.2)
        .attr("letter-spacing", -0.15)
        .attr("fill", textColor)
        .text(function(d) { return d; });
  }
  // and under the top matrices, turned on their side
  if (panel.top === 49) {
    svg.append("g").selectAll("text")
        .data(categories)
      .enter().append("text")
        .attr("transform", function(d, i) {
          return "translate(" + (panel.left + x(i) + x.bandwidth() / 2) + ",703) rotate(-90)";
        })
        .attr("dy", ".36em")
        .attr("text-anchor", "middle")
        .attr("font-size", 11.2)
        .attr("letter-spacing", -0.15)
        .attr("fill", textColor)
        .text(function(d) { return d; });
  }
});

// colorbar
var barTop = 1434, barHeight = 30;
var barScale = d3.scaleLinear().domain([0, colorbarMax]).range([1195, 99]).clamp(true);
var barBand = d3.scaleBand().domain(d3.range(colormap.length)).range([1195, 99]);

svg.append("g").selectAll("rect")
    .data(colormap)
  .enter().append("rect")
    .attr("x", function(d, i) { return barBand(i); })
    .attr("y", barTop)
    .attr("width", barBand.bandwidth() + 0.5)
    .attr("height", barHeight)
    .attr("fill", function(d) { return d; });

var ticks = svg.append("g").selectAll("g")
    .data(colorbarTicks)
  .enter().append("g")
    .attr("transform", function(d) { return "translate(" + barScale(d) + ",0)"; });

ticks.append("line")
    .attr("y1", barTop)
    .attr("y2", barTop + 5)
    .attr("stroke", "#333");
ticks.append("line")
    .attr("y1", barTop + barHeight - 5)
    .attr("y2", barTop + barHeight)
    .attr("stroke", "#333");
ticks.append("text")
    .attr("x", function(d) { return d === 100 ? 2 : 0; })
    .attr("y", 1494)
    .attr("text-anchor", "middle")
    .attr("font-size", 25)
    .attr("fill", "#222")
    .text(function(d) { return d; });

svg.append("rect")
    .attr("x", 99)
    .attr("y", barTop)
    .attr("width", 1096)
    .attr("height", barHeight)
    .attr("fill", "none")
    .attr("stroke", border)
    .attr("stroke-width", 1.2);

svg.append("text")
    .attr("x", 1204)
    .attr("y", 1458)
    .attr("font-size", 27.8)
    .attr("fill", "#222")
    .text("Colorbar");
</script>
</body>
</html>
